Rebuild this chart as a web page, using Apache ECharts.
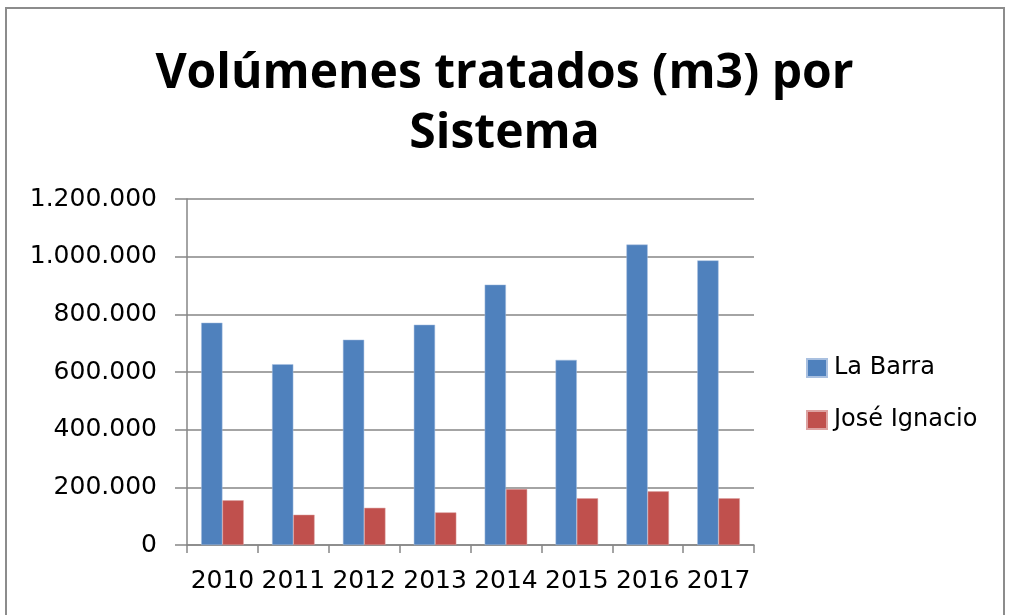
<!DOCTYPE html>
<html>
<head>
<meta charset="utf-8">
<script src="https://cdn.jsdelivr.net/npm/echarts@6/dist/echarts.min.js"></script>
<style>
  html, body { margin: 0; padding: 0; background: #fff; }
  #chart { width: 1009px; height: 615px; }
</style>
</head>
<body>
<div id="chart"></div>
<script>
// datos
const years = ["2010", "2011", "2012", "2013", "2014", "2015", "2016", "2017"];
const laBarra = [771000, 627000, 712000, 764000, 903000, 642000, 1042000, 987000];
const joseIgnacio = [155000, 105000, 129000, 113000, 194000, 162000, 186000, 162000];
const yTicks = [0, 200000, 400000, 600000, 800000, 1000000, 1200000];

// formato con punto de miles
function fmt(v) {
  return String(v).replace(/\B(?=(\d{3})+(?!\d))/g, ".");
}

const chart = echarts.init(document.getElementById("chart"));
const titleFont = "'Open Sans', 'Noto Sans', sans-serif";
const labelFont = "'DejaVu Sans', sans-serif";
const option = {
  animation: false,
  color: ["#4F81BD", "#C0504D"],
  title: {
    text: "Volúmenes tratados (m3) por\nSistema",
    left: "center",
    top: 39,
    textStyle: {
      fontFamily: titleFont,
      fontWeight: "bold",
      fontSize: 48,
      lineHeight: 60,
      color: "#000",
    },
  },
  graphic: [
    {
      type: "rect",
      shape: { x: 6, y: 8, width: 998, height: 640 },
      style: { fill: "none", stroke: "#8c8c8c", lineWidth: 2 },
      silent: true,
    },
  ],
  legend: {
    orient: "vertical",
    left: 801,
    top: 351,
    itemWidth: 20,
    itemHeight: 18,
    itemGap: 28,
    icon: "rect",
    textStyle: { fontFamily: labelFont, fontSize: 24, color: "#000", padding: [0, 0, 0, 2] },
    data: ["La Barra", "José Ignacio"],
  },
  grid: {
    left: 187,
    right: 255,
    top: 199,
    bottom: 70,
    containLabel: false,
  },
  xAxis: {
    type: "category",
    data: years,
    axisLine: { lineStyle: { color: "#868686", width: 1.5 } },
    axisTick: { show: true, length: 8, lineStyle: { color: "#868686", width: 1.5 } },
    axisLabel: {
      interval: 0,
      hideOverlap: false,
      fontFamily: labelFont,
      fontSize: 25,
      color: "#000",
      margin: 24,
    },
  },
  yAxis: {
    type: "value",
    min: yTicks[0],
    max: yTicks[yTicks.length - 1],
    interval: yTicks[1] - yTicks[0],
    axisLine: { show: true, lineStyle: { color: "#868686", width: 1.5 } },
    axisTick: { show: true, length: 12, lineStyle: { color: "#868686", width: 1.5 } },
    splitLine: { lineStyle: { color: "#868686", width: 1.5 } },
    axisLabel: {
      fontFamily: labelFont,
      fontSize: 25,
      color: "#000",
      margin: 30,
      formatter: fmt,
    },
  },
  series: [
    {
      name: "La Barra",
      type: "bar",
      data: laBarra,
      barGap: "0%",
      barCategoryGap: "40%",
      itemStyle: { borderColor: "#a9c0e0", borderWidth: 0.5 },
    },
    {
      name: "José Ignacio",
      type: "bar",
      data: joseIgnacio,
      barGap: "0%",
      barCategoryGap: "40%",
      itemStyle: { borderColor: "#dda3a2", borderWidth: 0.5 },
    },
  ],
};
chart.setOption(option);
</script>
</body>
</html>
